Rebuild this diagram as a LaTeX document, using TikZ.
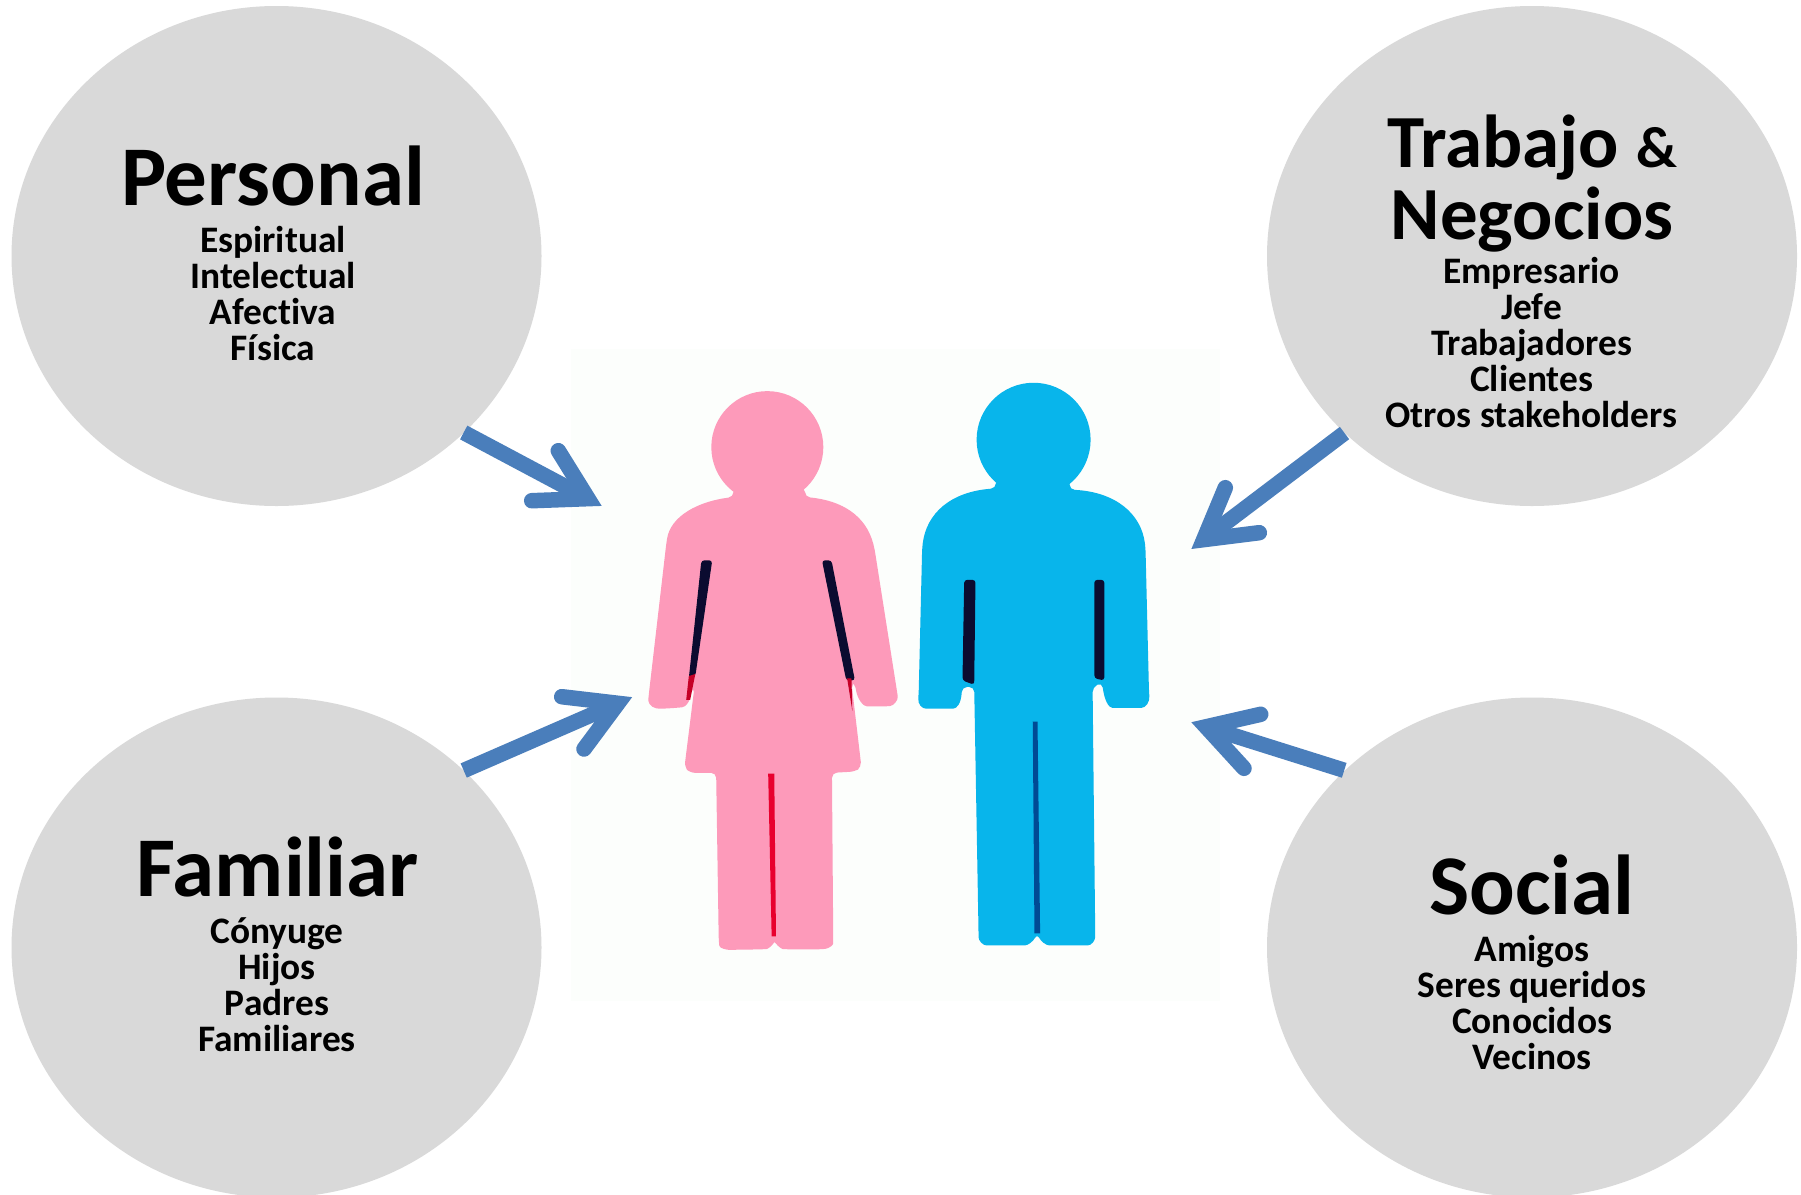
\documentclass[tikz,border=0pt]{standalone}
\usepackage{fontspec}
\setmainfont{Carlito}[Ligatures=NoCommon]
\usetikzlibrary{shapes.geometric,calc}
\definecolor{disc}{HTML}{D9D9D9}
\definecolor{arrowblue}{HTML}{4A7EBB}
\definecolor{photo}{HTML}{FCFEFC}
\definecolor{pinkfig}{HTML}{FD9ABA}
\definecolor{bluefig}{HTML}{08B5EB}
\definecolor{slitdark}{HTML}{0B0B30}
\definecolor{slitred}{HTML}{E8002E}
\definecolor{slitblue}{HTML}{004A94}
\tikzset{
  disc/.style={ellipse,fill=disc,draw=none,minimum width=530pt,minimum height=500pt,inner sep=0pt},
  titletext/.style={font=\bfseries\fontsize{85}{72}\selectfont,align=center,inner sep=0pt,text=black},
  titlesmall/.style={font=\bfseries\fontsize{75}{72}\selectfont,align=center,inner sep=0pt,text=black},
  bodytext/.style={font=\bfseries\fontsize{37.4}{36}\selectfont,align=center,inner sep=0pt,text=black},
  shaft/.style={draw=arrowblue,line width=15.5pt,line cap=butt},
  barbs/.style={draw=arrowblue,line width=15.5pt,line cap=round,line join=miter,miter limit=10},
}
\newcommand{\bluearrow}[4]{%
  \coordinate (apex) at ($(#2)!15pt!(#1)$);
  \draw[shaft] (#1) -- (apex);
  \draw[barbs] (#3) -- (apex) -- (#4);
}
\begin{document}
\begin{tikzpicture}[x=1pt,y=-1pt]
\useasboundingbox (0,0) rectangle (1801,1194);
\clip (0,0) rectangle (1801,1194);
\fill[white] (0,0) rectangle (1801,1194);
\fill[photo] (571,349) rectangle (1220,1001);

\node[disc] (personal) at (276.5,256) {};
\node[disc] (trabajo) at (1532,256) {};
\node[disc] (familiar) at (276.5,947.5) {};
\node[disc] (social) at (1532,947.5) {};

\node[titletext] (t1) at (273,176) {Personal};
\node[bodytext] (b1) at (273,294) {Espiritual\\Intelectual\\Afectiva\\Física};
\node[titlesmall] (t2) at (1532,183.5) {Trabajo {\fontsize{58}{72}\selectfont\&}\\Negocios};
\node[bodytext] (b2) at (1531.5,343) {Empresario\\Jefe\\Trabajadores\\Clientes\\Otros stakeholders};
\node[titletext] (t3) at (277.5,867) {Familiar};
\node[bodytext] (b3) at (277,985) {Cónyuge\\Hijos\\Padres\\Familiares};
\node[titletext] (t4) at (1532,885) {Social};
\node[bodytext] (b4) at (1532,1003) {Amigos\\Seres queridos\\Conocidos\\Vecinos};

% figures
\begin{scope}[shift={(560,340)},x=0.4337pt,y=-0.4337pt]
  % woman
  \fill[pinkfig] (478,247) circle[radius=56pt];
  \fill[pinkfig,rounded corners=5pt]
    (400,340) -- (400,362) .. controls (320,372) and (255,405) .. (245,470)
    -- (205,815) .. controls (202,845) and (220,850) .. (240,850)
    -- (270,848) .. controls (290,846) and (300,835) .. (305,800)
    -- (310,800) -- (287,985) -- (300,998) -- (360,998)
    -- (366,1385) .. controls (368,1403) and (385,1406) .. (400,1406)
    -- (465,1405) .. controls (480,1404) and (490,1395) .. (494,1382)
    .. controls (500,1395) and (510,1404) .. (525,1405)
    -- (600,1405) .. controls (620,1403) and (630,1395) .. (630,1380)
    -- (627,998) -- (680,995) -- (695,985) -- (672,790) -- (680,790)
    .. controls (685,830) and (700,845) .. (720,845)
    -- (750,845) .. controls (770,843) and (780,830) .. (777,810)
    -- (725,480) .. controls (705,405) and (650,370) .. (565,362)
    -- (565,340) -- cycle;
  \fill[slitdark,rounded corners=3pt] (326,508) -- (351,508) -- (312,775) -- (297,780) -- cycle;
  \fill[slitred!85!black] (312,770) -- (300,830) -- (291,830) -- (297,775) -- cycle;
  \fill[slitdark,rounded corners=3pt] (604,508) -- (626,508) -- (680,785) -- (660,785) -- cycle;
  \fill[slitred!85!black] (662,780) -- (672,780) -- (674,855) -- cycle;
  \fill[slitred] (480,1000) -- (494,1000) -- (498,1375) -- (488,1375) -- cycle;
  % man
  \fill[bluefig] (1092,230) circle[radius=57pt];
  \fill[bluefig,rounded corners=5pt]
    (1005,320) -- (1005,342) .. controls (900,350) and (845,400) .. (835,480)
    -- (827,815) .. controls (825,840) and (835,850) .. (855,850)
    -- (895,850) .. controls (915,850) and (925,838) .. (927,800)
    -- (955,800) -- (965,1365) .. controls (965,1385) and (975,1396) .. (995,1396)
    -- (1060,1396) .. controls (1080,1396) and (1092,1385) .. (1100,1368)
    .. controls (1108,1385) and (1120,1396) .. (1140,1396)
    -- (1205,1396) .. controls (1225,1396) and (1234,1385) .. (1234,1365)
    -- (1228,800) -- (1250,790) .. controls (1255,830) and (1265,848) .. (1285,848)
    -- (1330,848) .. controls (1350,848) and (1360,835) .. (1358,810)
    -- (1350,480) .. controls (1340,400) and (1280,350) .. (1175,345)
    -- (1175,320) -- cycle;
  \fill[slitdark,rounded corners=3pt] (932,553) -- (958,553) -- (955,795) -- (928,785) -- cycle;
  \fill[slitdark,rounded corners=3pt] (1232,553) -- (1255,553) -- (1255,785) -- (1232,780) -- cycle;
  \fill[slitblue] (1090,880) -- (1101,880) -- (1107,1368) -- (1094,1368) -- cycle;
\end{scope}

% arrows
\coordinate (s1) at (463.7,432.5); \coordinate (tip1) at (601.3,505.7);
\coordinate (a1) at (558.3,450.7); \coordinate (c1) at (531.7,500.7);
\bluearrow{s1}{tip1}{a1}{c1}
\coordinate (s2) at (463.7,770.5); \coordinate (tip2) at (631.7,697.3);
\coordinate (a2) at (561.7,696.7); \coordinate (c2) at (584,749);
\bluearrow{s2}{tip2}{a2}{c2}
\coordinate (s3) at (1344.5,433); \coordinate (tip3) at (1191.7,548.7);
\coordinate (a3) at (1225.3,487.7); \coordinate (c3) at (1259.3,532.7);
\bluearrow{s3}{tip3}{a3}{c3}
\coordinate (s4) at (1344.2,770.3); \coordinate (tip4) at (1191.7,722.3);
\coordinate (a4) at (1260.7,714.3); \coordinate (c4) at (1244,768.3);
\bluearrow{s4}{tip4}{a4}{c4}
\end{tikzpicture}
\end{document}
